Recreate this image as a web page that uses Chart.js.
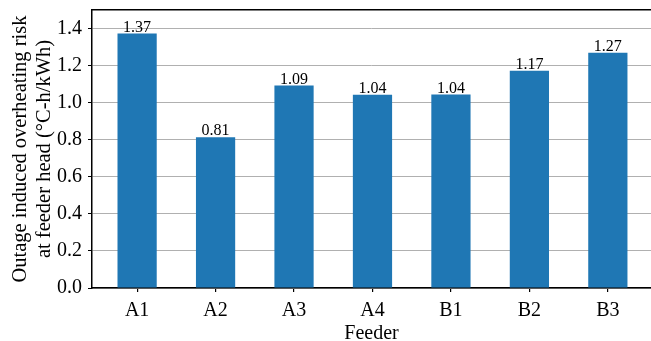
<!DOCTYPE html>
<html>
<head>
<meta charset="utf-8">
<script src="https://cdn.jsdelivr.net/npm/chart.js@4.4.1/dist/chart.umd.min.js"></script>
<style>
  html, body { margin: 0; padding: 0; background: white; overflow: hidden; }
  #box { width: 651px; height: 341px; }
</style>
</head>
<body>
<div id="box"><canvas id="feederChart" width="651" height="341"></canvas></div>
<script>
// Данные
const categories = ['A1', 'A2', 'A3', 'A4', 'B1', 'B2', 'B3'];
const riskValues = [1.373, 0.814, 1.092, 1.043, 1.044, 1.172, 1.27];
const yTicks = [0, 0.2, 0.4, 0.6, 0.8, 1.0, 1.2, 1.4];

Chart.defaults.font.family = '"Liberation Serif", "Times New Roman", serif';
Chart.defaults.color = '#000';

// Подписи над столбцами
const barLabels = {
    id: 'barLabels',
    afterDatasetsDraw(chart) {
        const ctx = chart.ctx;
        const meta = chart.getDatasetMeta(0);
        ctx.save();
        ctx.font = '16px "Liberation Serif", serif';
        ctx.fillStyle = '#000';
        ctx.textAlign = 'center';
        ctx.textBaseline = 'alphabetic';
        meta.data.forEach(function(bar, i) {
            ctx.fillText(riskValues[i].toFixed(2), bar.x, bar.y - 2);
        });
        ctx.restore();
    }
};

window.onload = function() {
    const ctx = document.getElementById('feederChart').getContext('2d');
    new Chart(ctx, {
        type: 'bar',
        data: {
            datasets: [{
                data: riskValues.map(function(v, i) { return { x: i, y: v }; }),
                backgroundColor: '#1f77b4',
                borderWidth: 0,
                barPercentage: 0.5,
                categoryPercentage: 1.0
            }]
        },
        options: {
            responsive: false,
            animation: false,
            layout: { padding: { top: 10, left: 0, right: 0, bottom: 0 } },
            plugins: {
                legend: { display: false },
                tooltip: { enabled: false }
            },
            scales: {
                x: {
                    type: 'linear',
                    position: 'bottom',
                    offset: false,
                    min: -0.575,
                    max: 6.55,
                    afterBuildTicks: function(scale) {
                        scale.ticks = categories.map(function(c, i) { return { value: i }; });
                    },
                    afterFit: function(scale) {
                        scale.height = 53;
                        scale.paddingLeft = 0;
                        scale.paddingRight = 0;
                    },
                    ticks: {
                        autoSkip: false,
                        maxRotation: 0,
                        padding: 7,
                        font: { size: 20 },
                        callback: function(value) { return categories[value]; }
                    },
                    grid: {
                        offset: false,
                        drawOnChartArea: false,
                        color: '#000',
                        tickLength: 4,
                        lineWidth: 1.2
                    },
                    border: { display: true, color: '#000', width: 1.5 },
                    title: {
                        display: true,
                        text: 'Feeder',
                        font: { size: 20, lineHeight: 0.7 },
                        padding: { top: 0, bottom: 0 }
                    }
                },
                xTop: {
                    type: 'linear',
                    position: 'top',
                    offset: false,
                    min: -0.575,
                    max: 6.55,
                    afterFit: function(scale) {
                        scale.height = 0;
                        scale.paddingLeft = 0;
                        scale.paddingRight = 0;
                    },
                    ticks: { display: false },
                    grid: { display: false, offset: false },
                    border: { display: true, color: '#000', width: 1.5 }
                },
                y: {
                    min: 0,
                    max: 1.5,
                    afterBuildTicks: function(scale) {
                        scale.ticks = yTicks.map(function(v) { return { value: v }; });
                    },
                    afterFit: function(scale) {
                        scale.width = 92;
                        scale.paddingTop = 0;
                        scale.paddingBottom = 0;
                    },
                    ticks: {
                        padding: 6,
                        font: { size: 20 },
                        callback: function(value) { return value.toFixed(1); }
                    },
                    grid: {
                        color: '#b0b0b0',
                        lineWidth: 1,
                        tickColor: '#000',
                        tickLength: 4
                    },
                    border: { display: true, color: '#000', width: 1.5 },
                    title: {
                        display: true,
                        text: ['Outage induced overheating risk', 'at feeder head (°C-h/kWh)'],
                        font: { size: 20.5, lineHeight: 1.15 },
                        padding: { top: 9, bottom: 0 }
                    }
                }
            }
        },
        plugins: [barLabels]
    });
};
</script>
</body>
</html>
